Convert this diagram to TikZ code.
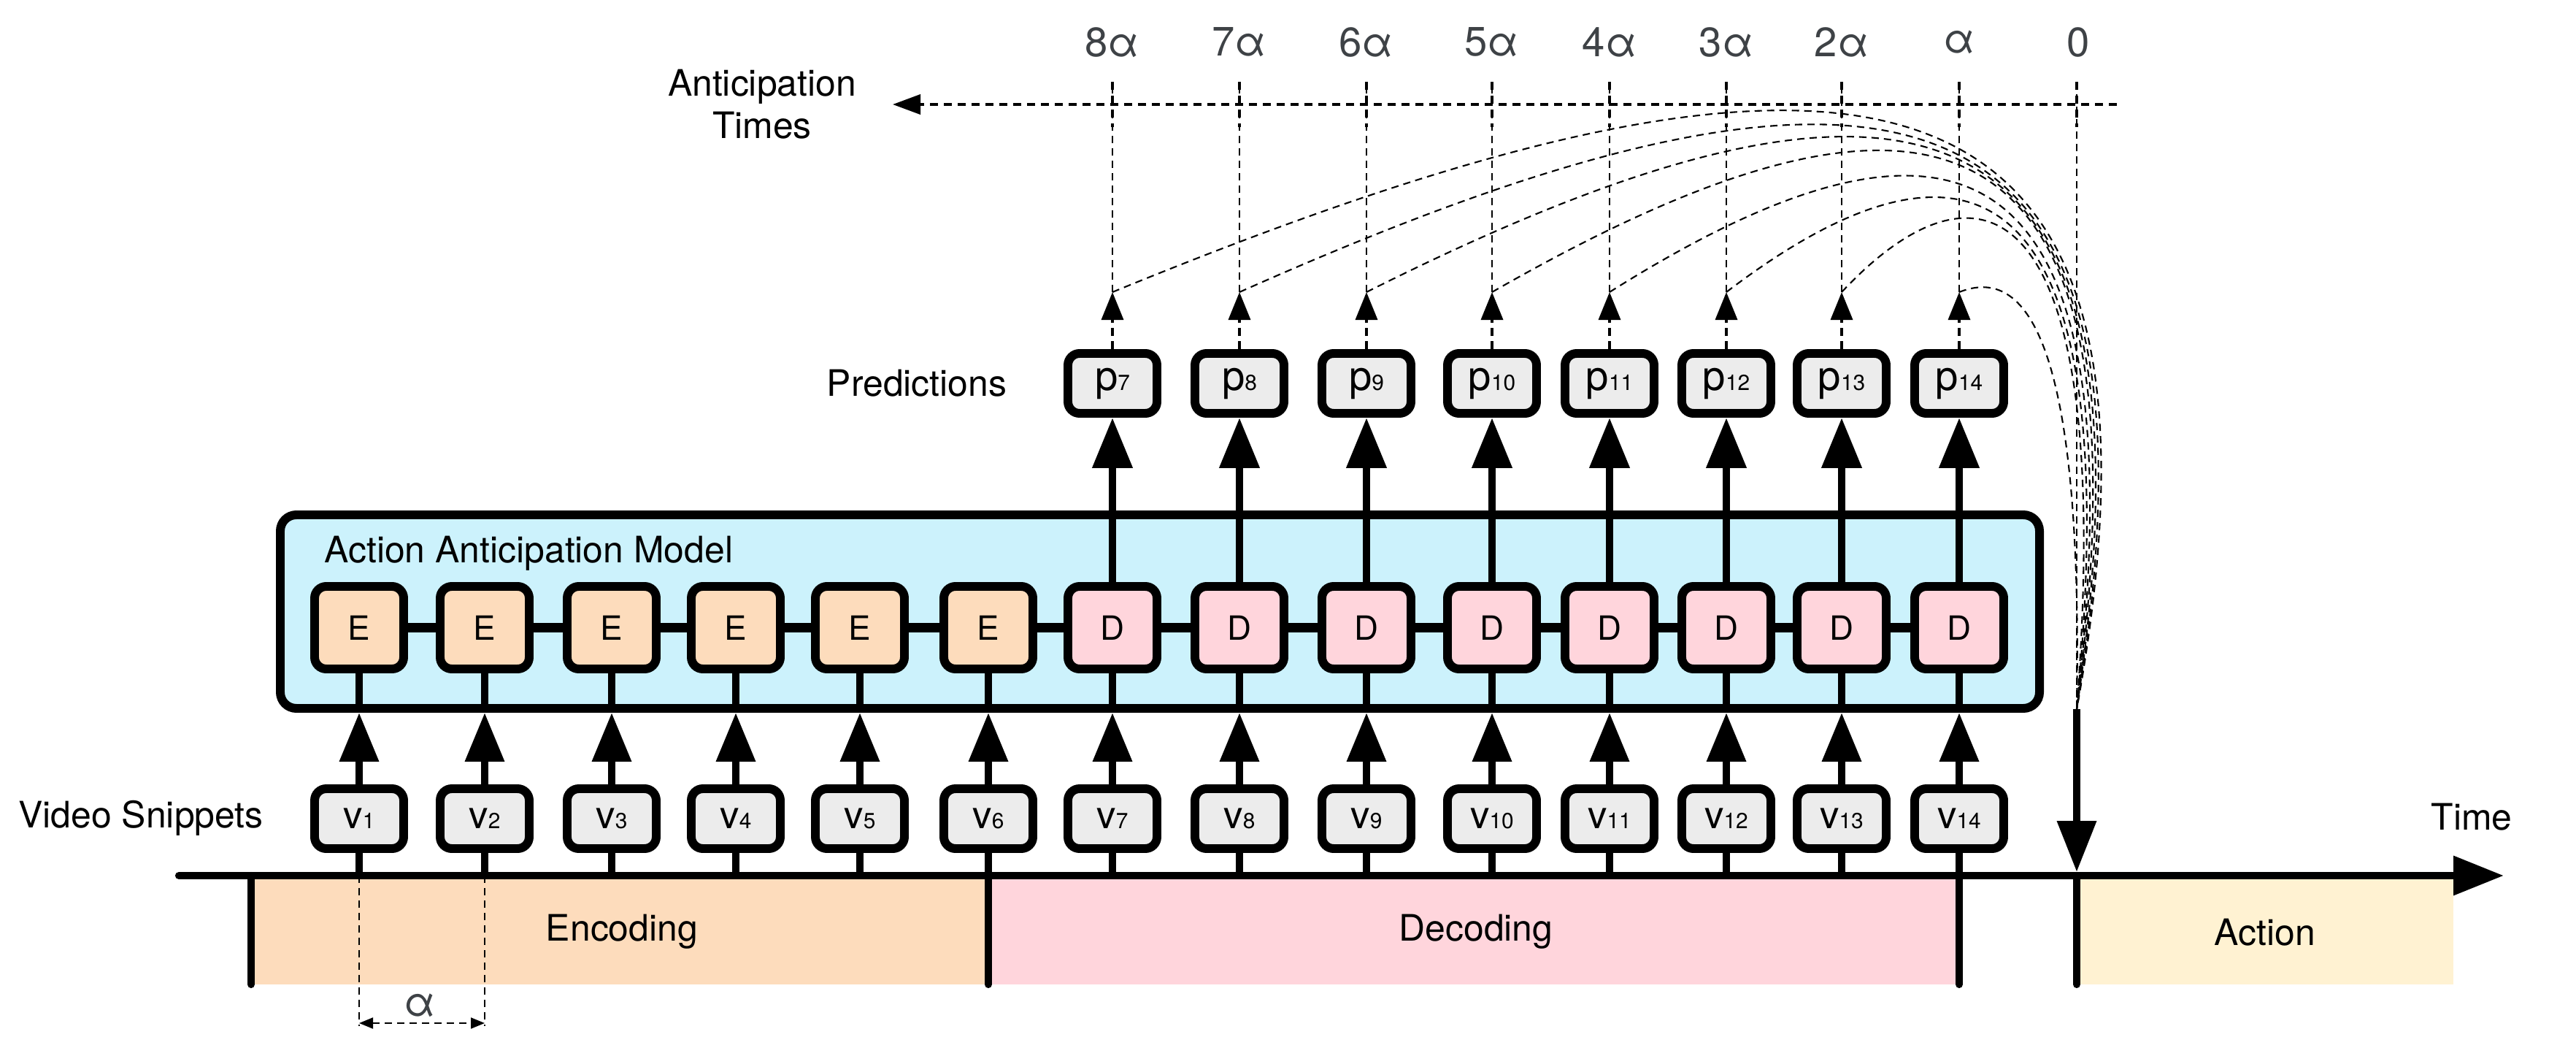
\documentclass[tikz,border=0pt]{standalone}
\usepackage{fontspec}
\setmainfont{TeX Gyre Heros}
\usetikzlibrary{arrows.meta, positioning}

\definecolor{encfill}{RGB}{253,220,188}
\definecolor{decfill}{RGB}{255,213,220}
\definecolor{actfill}{RGB}{255,242,210}
\definecolor{modelfill}{RGB}{204,242,252}
\definecolor{snipfill}{RGB}{236,236,236}
\definecolor{timegray}{RGB}{62,66,70}

\newcommand{\idx}[1]{{\fontsize{8.5}{9}\selectfont #1}}

\begin{document}
\begin{tikzpicture}[on grid, node distance=2.6cm,
    block/.style={draw, line width=3.4pt, rounded corners=0.16cm, minimum width=1.22cm, inner sep=0pt},
    enc/.style={block, fill=encfill, minimum height=1.13cm, font=\fontsize{13}{13}\selectfont},
    dec/.style={enc, fill=decfill},
    snip/.style={block, fill=snipfill, minimum height=0.82cm, font=\fontsize{15}{15}\selectfont},
    pred/.style={snip, font=\fontsize{16}{16}\selectfont},
    model/.style={draw, line width=3.4pt, rounded corners=0.22cm, fill=modelfill, inner sep=0pt},
    link/.style={line width=2.9pt},
    flow/.style={line width=2.9pt, -{Triangle[length=0.67cm, width=0.52cm]}},
    flowup/.style={line width=3.1pt, -{Triangle[length=0.69cm, width=0.53cm]}},
    pdash/.style={line width=1pt, dash pattern=on 0.11cm off 0.07cm, -{Triangle[length=0.38cm, width=0.30cm]}},
    tdash/.style={line width=0.6pt, dash pattern=on 0.10cm off 0.07cm},
    axisdash/.style={line width=1.1pt, dash pattern=on 0.11cm off 0.08cm},
    txt/.style={font=\fontsize{14.2}{17}\selectfont},
    tlabel/.style={font=\fontsize{16}{16}\selectfont, text=timegray}]

  \useasboundingbox (0,0) rectangle (35.29,14.45);

  % model box
  \node[model, minimum width=24.10cm, minimum height=2.65cm] (model) at (15.89,6.075) {};
  \node[txt, anchor=base west] (modeltitle) at (4.32,6.75) {Action Anticipation Model};

  % time line and phases
  \coordinate (tlstart) at (2.45,2.46);
  \coordinate (tlend) at (34.30,2.46);
  \coordinate (acttop) at (28.45,4.74);
  \fill[encfill] (3.44,2.46) rectangle (13.54,0.97);
  \fill[decfill] (13.54,2.46) rectangle (26.84,0.97);
  \fill[actfill] (28.45,2.46) rectangle (33.61,0.97);
  \foreach \x in {3.44, 13.54, 26.84, 28.45}
    \draw[link, line cap=round] (\x,2.46) -- (\x,0.97);
  \draw[link, line cap=round, -{Triangle[length=0.69cm, width=0.52cm]}] (tlstart) -- (tlend);

  \node[txt] (enclabel) at (8.52,1.69) {Encoding};
  \node[txt] (declabel) at (20.22,1.69) {Decoding};
  \node[txt] (actlabel) at (31.03,1.68) {Action};
  \node[txt] (timelabel) at (33.86,3.26) {Time};
  \node[txt] (sniplabel) at (1.93,3.25) {Video Snippets};
  \node[txt] (predlabel) at (12.56,9.20) {Predictions};
  \node[txt, align=center, font=\fontsize{14.2}{16.5}\selectfont] (antlabel) at (10.44,13.02) {Anticipation\\Times};

  % snippets, encoder / decoder units, predictions
  \foreach \i/\x in {1/4.92, 2/6.64, 3/8.38, 4/10.08, 5/11.78, 6/13.54, 7/15.24,
                     8/16.98, 9/18.72, 10/20.44, 11/22.05, 12/23.65, 13/25.23, 14/26.84}
    \node[snip] (v\i) at (\x,3.24) {v\idx{\i}};
  \foreach \i in {1,...,6}
    \node[enc, above=2.615 of v\i] (m\i) {E};
  \foreach \i in {7,...,14} {
    \node[dec, above=2.615 of v\i] (m\i) {D};
    \node[pred, above=3.345 of m\i] (p\i) {p\idx{\i}};
  }

  \foreach \i [evaluate=\i as \j using int(\i+1)] in {1,...,13}
    \draw[line width=3.6pt] (m\i.east) -- (m\j.west);
  \foreach \i in {1,...,14} {
    \draw[link] (v\i.south) -- (v\i.south |- tlstart);
    \draw[flow] (v\i.north) -- (v\i.north |- model.south);
    \draw[link] (v\i.north |- model.south) -- (m\i.south);
  }
  \foreach \i in {7,...,14}
    \draw[flowup] (m\i.north) -- (p\i.south);

  % anticipation times
  \coordinate (axisR) at (29.00,13.02);
  \coordinate (axisL) at (12.23,13.02);
  \draw[axisdash, -{Triangle[length=0.38cm, width=0.27cm]}] (axisR) -- (axisL);
  \foreach \i/\t in {7/8α, 8/7α, 9/6α, 10/5α, 11/4α, 12/3α, 13/2α, 14/α} {
    \draw[pdash] (p\i.north) -- ++(0,0.78) coordinate (t\i);
    \node[tlabel] (a\i) at (p\i |- 0,13.87) {\t};
    \draw[tdash] (t\i) -- (t\i |- 0,13.33);
    \draw[axisdash] (t\i |- 0,13.33) -- (t\i |- 0,12.71);
  }
  \node[tlabel] (a0) at (28.47,13.87) {0};
  \draw[tdash] (acttop |- 0,13.33) -- (acttop);
  \draw[axisdash] (acttop |- 0,13.33) -- (acttop |- 0,12.71);

  % predictions mapped onto the action start
  \foreach \i/\ax/\ay/\bx/\by in {7/25.00/14.45/30.20/14.35, 8/25.40/14.20/30.00/14.05,
                                  9/25.80/14.00/29.80/13.75, 10/26.20/13.75/29.60/13.45,
                                  11/26.50/13.25/29.40/12.95, 12/26.80/12.85/29.20/12.45,
                                  13/27.10/12.45/29.00/11.95, 14/27.60/10.75/28.55/10.25}
    \draw[tdash] (t\i) .. controls (\ax,\ay) and (\bx,\by) .. (acttop);
  \draw[link, -{Triangle[length=0.70cm, width=0.52cm]}] (acttop) -- (acttop |- 0,2.51);

  % snippet spacing
  \draw[tdash] (v1 |- tlstart) -- (v1 |- 0,0.40);
  \draw[tdash] (v2 |- tlstart) -- (v2 |- 0,0.40);
  \draw[tdash, {Triangle[length=0.19cm, width=0.15cm]}-{Triangle[length=0.19cm, width=0.15cm]}]
    (v1 |- 0,0.44) -- (v2 |- 0,0.44);
  \node[tlabel] (alpha) at (5.75,0.68) {α};
\end{tikzpicture}
\end{document}
